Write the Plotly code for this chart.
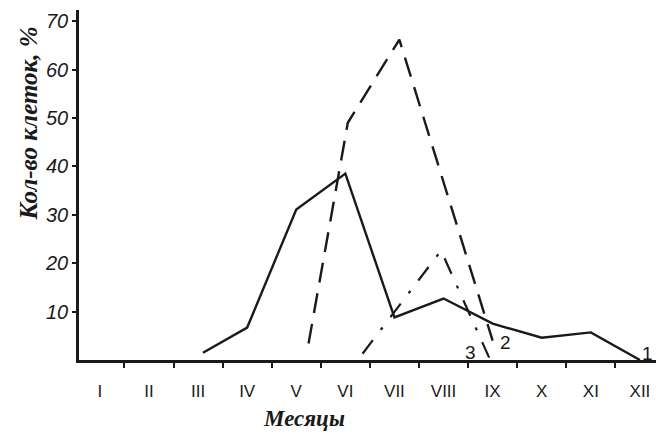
import plotly.graph_objects as go

# ---- data ----
month_labels = ["I", "II", "III", "IV", "V", "VI", "VII", "VIII", "IX", "X", "XI", "XII"]
month_pos = [1, 2, 3, 4, 5, 6, 7, 8, 9, 10, 11, 12]
month_bounds = [1.5, 2.5, 3.5, 4.5, 5.5, 6.5, 7.5, 8.5, 9.5, 10.5, 11.5]

c1_x = [3.1, 4, 5, 6, 7, 8, 9, 10, 11, 12]
c1_y = [1.5, 6.7, 31.1, 38.5, 8.8, 12.7, 7.5, 4.6, 5.7, 0.0]

c2_x = [5.25, 6.05, 7.1, 9.0]
c2_y = [3.4, 49.0, 66.2, 4.0]

c3_x = [6.35, 7.95, 8.95]
c3_y = [1.3, 22.6, 0.0]

y_ticks = [10, 20, 30, 40, 50, 60, 70]
y_ticktext = ["10", "20", "30", "40", "50", "60", "70"]

curve_names = ["1", "2", "3"]

INK = "#1a1a1a"

fig = go.Figure()
fig.add_trace(go.Scatter(x=c1_x, y=c1_y, mode="lines", name=curve_names[0],
                         line=dict(color=INK, width=2.4)))
fig.add_trace(go.Scatter(x=c2_x, y=c2_y, mode="lines", name=curve_names[1],
                         line=dict(color=INK, width=2.4, dash="20px,11px")))
fig.add_trace(go.Scatter(x=c3_x, y=c3_y, mode="lines", name=curve_names[2],
                         line=dict(color=INK, width=2.2, dash="17px,13px,3px,13px")))

label_font = dict(family="Liberation Sans", size=19, color=INK)
fig.add_annotation(x=c1_x[-1], y=c1_y[-1], text=curve_names[0], showarrow=False,
                   xshift=8, yshift=7, font=label_font)
fig.add_annotation(x=c2_x[-1], y=c2_y[-1], text=curve_names[1], showarrow=False,
                   xshift=13, yshift=-2, font=label_font)
fig.add_annotation(x=c3_x[-1], y=c3_y[-1], text=curve_names[2], showarrow=False,
                   xshift=-20, yshift=8, font=label_font)

# axis titles
fig.add_annotation(xref="paper", yref="paper", x=(304 - 79) / 577, y=-58 / 350,
                   text="Месяцы", showarrow=False, xanchor="center", yanchor="middle",
                   font=dict(family="Liberation Serif", size=23, color=INK,
                             weight="bold", style="italic"))
fig.add_annotation(xref="paper", yref="paper", x=(28 - 79) / 577, y=(360 - 123.5) / 350,
                   text="Кол-во клеток, %", showarrow=False, textangle=-90,
                   xanchor="center", yanchor="middle",
                   font=dict(family="Liberation Serif", size=25, color=INK,
                             weight="bold", style="italic"))

fig.update_layout(
    width=656, height=436,
    margin=dict(l=79, r=0, t=10, b=76, pad=0),
    paper_bgcolor="white", plot_bgcolor="white",
    showlegend=False,
    xaxis=dict(
        range=[0.575, 12.327],
        tickmode="array", tickvals=month_pos, ticktext=month_labels,
        ticks="", showgrid=False, zeroline=False,
        showline=True, linecolor=INK, linewidth=2.5,
        tickfont=dict(family="Liberation Sans", size=17, color=INK),
        ticklabelstandoff=14,
        minor=dict(tickmode="array", tickvals=month_bounds, ticks="outside",
                   ticklen=5, tickwidth=2, tickcolor=INK, showgrid=False),
    ),
    yaxis=dict(
        range=[0, 72.3],
        tickmode="array", tickvals=y_ticks,
        ticktext=["<i>" + t + "</i>" for t in y_ticktext],
        ticks="outside", ticklen=4, tickwidth=2, tickcolor=INK,
        showgrid=False, zeroline=False,
        showline=True, linecolor=INK, linewidth=2.5,
        tickfont=dict(family="Liberation Sans", size=20, color=INK),
    ),
)

fig.write_html("out.html")
